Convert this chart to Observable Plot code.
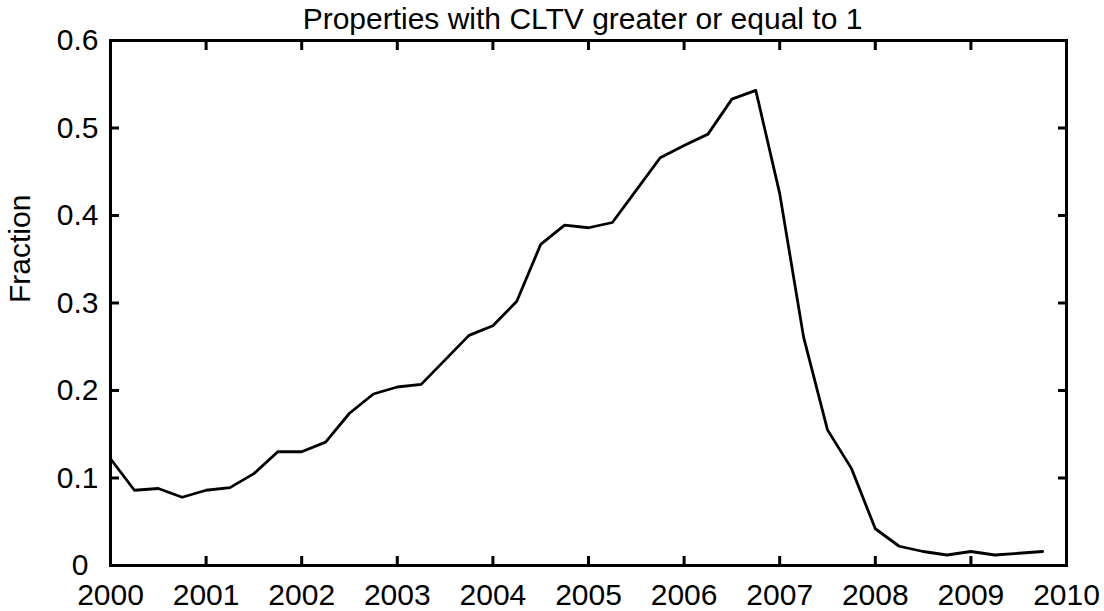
<!DOCTYPE html>
<html>
<head>
<meta charset="utf-8">
<script src="https://cdn.jsdelivr.net/npm/d3@7"></script>
<script src="https://cdn.jsdelivr.net/npm/@observablehq/plot@0.6"></script>
<style>
  html, body { margin: 0; padding: 0; background: #fff; }
  #chart svg { font-family: "Liberation Sans", Arial, sans-serif; }
</style>
</head>
<body>
<div id="chart"></div>
<script>
const titleText = "Properties with CLTV greater or equal to 1";
const yLabel = "Fraction";

const quarters = [
  2000.00, 2000.25, 2000.50, 2000.75,
  2001.00, 2001.25, 2001.50, 2001.75,
  2002.00, 2002.25, 2002.50, 2002.75,
  2003.00, 2003.25, 2003.50, 2003.75,
  2004.00, 2004.25, 2004.50, 2004.75,
  2005.00, 2005.25, 2005.50, 2005.75,
  2006.00, 2006.25, 2006.50, 2006.75,
  2007.00, 2007.25, 2007.50, 2007.75,
  2008.00, 2008.25, 2008.50, 2008.75,
  2009.00, 2009.25, 2009.50, 2009.75
];
const fraction = [
  0.122, 0.086, 0.088, 0.078,
  0.086, 0.089, 0.105, 0.130,
  0.130, 0.141, 0.174, 0.196,
  0.204, 0.207, 0.235, 0.263,
  0.274, 0.302, 0.367, 0.389,
  0.386, 0.392, 0.429, 0.466,
  0.480, 0.493, 0.533, 0.543,
  0.425, 0.261, 0.155, 0.111,
  0.042, 0.022, 0.016, 0.012,
  0.016, 0.012, 0.014, 0.016
];
const xTicks = [2000, 2001, 2002, 2003, 2004, 2005, 2006, 2007, 2008, 2009, 2010];
const yTicks = [0, 0.1, 0.2, 0.3, 0.4, 0.5, 0.6];
const yTickLabels = ["0\u2004", "0.1", "0.2", "0.3", "0.4", "0.5", "0.6"];

const data = quarters.map((q, i) => ({q, v: fraction[i]}));
const yLab = new Map(yTicks.map((t, i) => [t, yTickLabels[i]]));
const blank = () => "";

const chart = Plot.plot({
  width: 1104,
  height: 611,
  marginLeft: 110,
  marginRight: 38,
  marginTop: 40,
  marginBottom: 46,
  style: {fontFamily: '"Liberation Sans", Arial, sans-serif', background: "#fff"},
  x: {domain: [2000, 2010], type: "linear"},
  y: {domain: [0, 0.6]},
  marks: [
    Plot.axisX({anchor: "bottom", ticks: xTicks, tickSize: 0, tickPadding: 18, fontSize: 30, fill: "#000", tickFormat: d => String(d), label: null}),
    Plot.axisY({anchor: "left", ticks: yTicks, tickSize: 0, tickPadding: 12, fontSize: 30, fill: "#000", tickFormat: d => yLab.get(d) ?? String(d), label: null}),
    Plot.axisX({anchor: "bottom", ticks: xTicks, tickSize: -9, tickFormat: blank, stroke: "#000", strokeWidth: 3, label: null}),
    Plot.axisX({anchor: "top", ticks: xTicks, tickSize: -9, tickFormat: blank, stroke: "#000", strokeWidth: 3, label: null}),
    Plot.axisY({anchor: "left", ticks: yTicks, tickSize: -9, tickFormat: blank, stroke: "#000", strokeWidth: 3, label: null}),
    Plot.axisY({anchor: "right", ticks: yTicks, tickSize: -9, tickFormat: blank, stroke: "#000", strokeWidth: 3, label: null}),
    Plot.line(data, {x: "q", y: "v", stroke: "#000", strokeWidth: 2.8}),
    Plot.frame({stroke: "#000", strokeWidth: 3}),
    Plot.text([titleText], {frameAnchor: "top", dy: -21, dx: -6, fontSize: 30, fill: "#000", lineAnchor: "middle"}),
    Plot.text([yLabel], {frameAnchor: "left", dx: -90, rotate: -90, fontSize: 30, fill: "#000", lineAnchor: "middle"})
  ]
});
document.getElementById("chart").appendChild(chart);
</script>
</body>
</html>
